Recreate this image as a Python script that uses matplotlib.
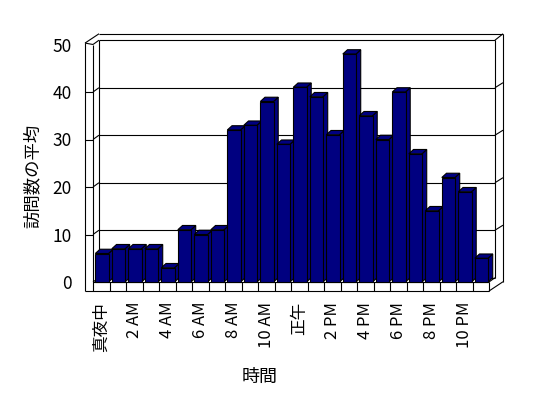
import matplotlib
matplotlib.use("Agg")
import matplotlib.pyplot as plt
from matplotlib.patches import Polygon, Rectangle

plt.rcParams["font.family"] = ["Noto Sans CJK JP", "DejaVu Sans"]

# hourly averages (one bar per hour, midnight .. 11 PM)
hours = list(range(24))
visits = [6, 7, 7, 7, 3, 11, 10, 11, 32, 33, 38, 29,
          41, 39, 31, 48, 35, 30, 40, 27, 15, 22, 19, 5]
tick_labels = ["真夜中", "2 AM", "4 AM", "6 AM", "8 AM", "10 AM",
               "正午", "2 PM", "4 PM", "6 PM", "8 PM", "10 PM"]
y_ticks = [0, 10, 20, 30, 40, 50]

bar_color = "#000080"
edge = "black"
lw = 0.8

# fake 3d geometry in data units
bar_off, bar_w = 0.14, 0.80
dx, dy = 0.285, 0.9      # depth of the bars / back wall
odx, ody = 0.85, 1.96    # outer wall thickness offset
wall_l = -0.485          # front face of the left wall
floor_b = -1.9           # floor thickness
n = len(hours)
top = 50

fig = plt.figure(figsize=(5.48, 3.98), dpi=100)
W, H = 548, 398
ax = fig.add_axes([80 / W, (H - 295) / H, 430 / W, 265 / H])
ax.set_xlim(-13 / 16.5, 417 / 16.5)
ax.set_ylim(-13 / 4.75, 252 / 4.75)
for s in ax.spines.values():
    s.set_visible(False)


def line(xs, ys):
    ax.plot(xs, ys, color=edge, lw=lw, solid_capstyle="butt", zorder=2)


bx = 0.36  # back wall x offset
# back wall + gridlines
for v in y_ticks[:-1]:
    line([bx, n + bx], [v + dy, v + dy])
    line([0, bx], [v, v + dy])
    if v > 0:
        line([n + bx, n + odx], [v + dy, v + ody])
        line([wall_l, 0], [v, v])
line([bx, bx], [dy, top + dy])
line([bx, n + bx], [top + dy, top + dy])
line([n + bx, n + bx], [dy, top + dy])
line([n + bx, n + odx], [top + dy, top + ody + 0.3])
# outer frame
line([wall_l, wall_l], [floor_b, top + 0.3])
line([wall_l, wall_l + odx], [top + 0.3, top + 0.3 + ody])
line([wall_l + odx, n + odx], [top + 0.3 + ody, top + 0.3 + ody])
line([n + odx, n + odx], [top + 0.3 + ody, floor_b + ody])
line([n, n + odx], [floor_b, floor_b + ody])
line([wall_l, n], [floor_b, floor_b])
line([wall_l, 0], [top + 0.3, top])
line([0, 0], [floor_b, top])
line([0, bx], [top, top + dy])
line([0, n], [0, 0])
line([n, n + bx], [0, dy])
for i in range(1, n + 1):
    line([i, i], [floor_b, 0])

# bars
for i, v in zip(hours, visits):
    l = i + bar_off
    r = l + bar_w
    side = Polygon([(r, 0), (r, v), (r + dx, v + dy), (r + dx, dy)],
                   facecolor=bar_color, edgecolor=edge, lw=lw, zorder=3)
    cap = Polygon([(l, v), (r, v), (r + dx, v + dy), (l + dx, v + dy)],
                  facecolor=bar_color, edgecolor=edge, lw=lw, zorder=3)
    front = Rectangle((l, 0), bar_w, v, facecolor=bar_color,
                      edgecolor=edge, lw=lw, zorder=3)
    ax.add_patch(side)
    ax.add_patch(cap)
    ax.add_patch(front)

ax.set_xticks([h + 0.5 for h in hours[::2]])
ax.set_xticklabels(tick_labels, rotation=90, fontsize=12)
ax.set_yticks(y_ticks)
ax.set_yticklabels([str(t) for t in y_ticks], fontsize=12.5)
ax.tick_params(axis="x", length=0, pad=5)
ax.tick_params(axis="y", length=0, pad=6)

fig.text(33 / W, 1 - 176 / H, "訪問数の平均", rotation=90,
         ha="center", va="center", fontsize=12.5)
fig.text(260 / W, 1 - 377 / H, "時間", ha="center", va="center", fontsize=13)

fig.savefig("out.png", dpi=100)
